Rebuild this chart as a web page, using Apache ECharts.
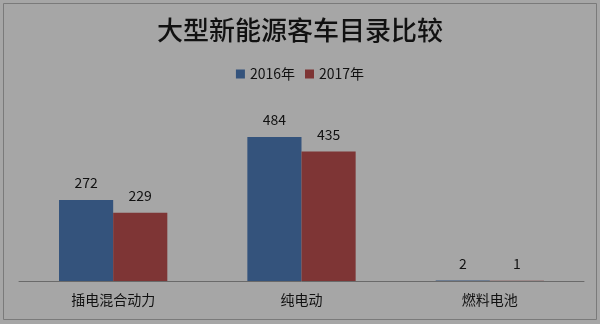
<!DOCTYPE html>
<html><head><meta charset="utf-8">
<script src="https://cdn.jsdelivr.net/npm/echarts@6/dist/echarts.min.js"></script>
<style>html,body{margin:0;padding:0;background:#a6a6a6;}#c{width:600px;height:324px;}</style>
</head><body><div id="c"></div>
<script>
const categories = ['插电混合动力', '纯电动', '燃料电池'];
const seriesNames = ['2016年', '2017年'];
const values2016 = [272, 484, 2];
const values2017 = [229, 435, 1];
const colors = ['#34537c', '#7e3535'];
const chart = echarts.init(document.getElementById('c'));
const font = '"Noto Sans CJK SC", sans-serif';
chart.setOption({
  backgroundColor: '#a6a6a6',
  animation: false,
  graphic: [{type:'rect', shape:{x:3.5,y:3.5,width:593,height:316}, style:{fill:'none', stroke:'#7a7a7a', lineWidth:1}}],
  title: {text:'大型新能源客车目录比较', left:'center', top:12, textStyle:{fontFamily:font, fontSize:26, fontWeight:500, color:'#111'}},
  legend: {top:62, left:'center', itemWidth:9, itemHeight:9, itemGap:10, icon:'rect',
    textStyle:{fontFamily:font, fontSize:14, color:'#111'}, data: seriesNames},
  grid: {left:19, right:16, top:102.5, bottom:43},
  xAxis: {type:'category', data:categories,
    axisLine:{lineStyle:{color:'#6a6a6a', width:1}}, axisTick:{show:false},
    axisLabel:{fontFamily:font, fontSize:14, color:'#111', margin:12}},
  yAxis: {type:'value', min:0, max:600, show:false, splitLine:{show:false}},
  series: [
    {name:seriesNames[0], type:'bar', data:values2016, barGap:'0%', barCategoryGap:'42.5%',
     itemStyle:{color:colors[0]}, label:{show:true, position:'top', distance:10, fontFamily:font, fontSize:14, color:'#111'}},
    {name:seriesNames[1], type:'bar', data:values2017,
     itemStyle:{color:colors[1]}, label:{show:true, position:'top', distance:10, fontFamily:font, fontSize:14, color:'#111'}}
  ]
});
</script></body></html>
